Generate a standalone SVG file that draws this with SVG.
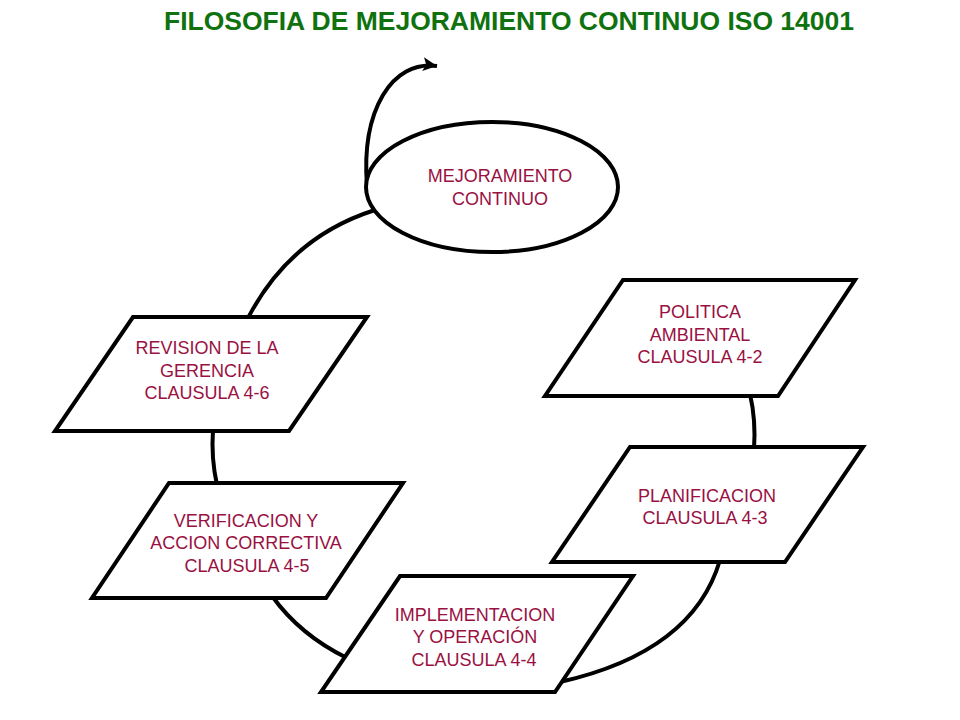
<svg xmlns="http://www.w3.org/2000/svg" width="960" height="720" viewBox="0 0 960 720">
<defs>
<style>
.title{font-family:"Liberation Sans",Arial,sans-serif;font-weight:bold;font-size:26px;fill:#0f720f}
.lbl{font-family:"Liberation Sans",Arial,sans-serif;font-size:18px;fill:#991142;text-anchor:middle}
.shape{fill:#ffffff;stroke:#000000;stroke-width:4;stroke-linejoin:miter}
.conn{fill:none;stroke:#000000;stroke-width:4}
</style>
<marker id="arr" markerUnits="userSpaceOnUse" markerWidth="20" markerHeight="20" refX="14" refY="7" orient="auto">
<polygon points="0,0 14,7 0,14 3,7" fill="#000000"/>
</marker>
</defs>
<rect width="960" height="720" fill="#ffffff"/>
<text class="title" x="164" y="30" textLength="690" lengthAdjust="spacingAndGlyphs">FILOSOFIA DE MEJORAMIENTO CONTINUO ISO 14001</text>
<g id="connectors">
<path class="conn" d="M367,186 C361,110 392,60 437,66" marker-end="url(#arr)"/>
<path class="conn" d="M375,210 Q290,237 248,318"/>
<path class="conn" d="M213,430 Q211,458 217,485"/>
<path class="conn" d="M272,596 Q300,635 347,658"/>
<path class="conn" d="M720,560 Q693,652 560,682"/>
<path class="conn" d="M750,394 Q756,420 754,449"/>
</g>
<g id="mejoramiento">
<ellipse class="shape" cx="492" cy="187" rx="126" ry="65"/>
<text class="lbl" x="500" y="182">MEJORAMIENTO</text>
<text class="lbl" x="500" y="205">CONTINUO</text>
</g>
<g id="revision">
<polygon class="shape" points="133,317 367,317 289,431 55,431"/>
<text class="lbl" x="207" y="354">REVISION DE LA</text>
<text class="lbl" x="207" y="377">GERENCIA</text>
<text class="lbl" x="207" y="399">CLAUSULA 4-6</text>
</g>
<g id="verificacion">
<polygon class="shape" points="169,483 403,483 326,598 92,598"/>
<text class="lbl" x="246" y="527">VERIFICACION Y</text>
<text class="lbl" x="246" y="549">ACCION CORRECTIVA</text>
<text class="lbl" x="247" y="572">CLAUSULA 4-5</text>
</g>
<g id="implementacion">
<polygon class="shape" points="400,576 633,576 555,692 321,692"/>
<text class="lbl" x="475" y="621">IMPLEMENTACION</text>
<text class="lbl" x="475" y="643">Y OPERACIÓN</text>
<text class="lbl" x="474" y="666">CLAUSULA 4-4</text>
</g>
<g id="planificacion">
<polygon class="shape" points="630,447 863,447 785,562 552,562"/>
<text class="lbl" x="707" y="502">PLANIFICACION</text>
<text class="lbl" x="705" y="524">CLAUSULA 4-3</text>
</g>
<g id="politica">
<polygon class="shape" points="623,280 855,280 778,396 545,396"/>
<text class="lbl" x="700" y="318">POLITICA</text>
<text class="lbl" x="700" y="341">AMBIENTAL</text>
<text class="lbl" x="700" y="363">CLAUSULA 4-2</text>
</g>
</svg>
